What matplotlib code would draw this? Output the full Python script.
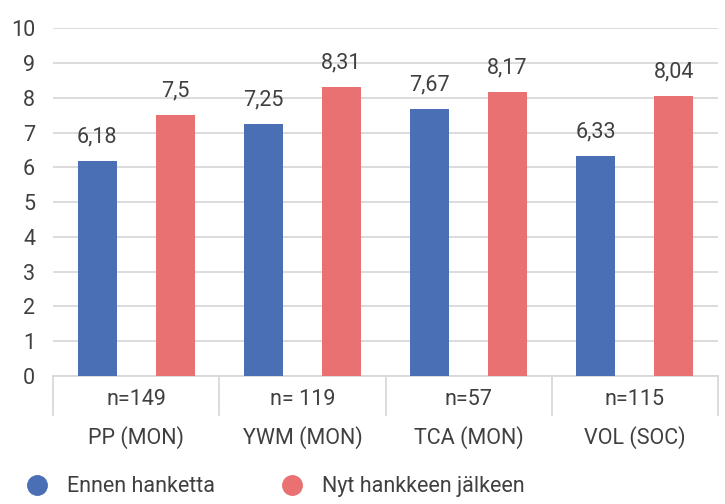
import numpy as np
import matplotlib.pyplot as plt
from matplotlib.lines import Line2D

# data
categories = ['PP (MON)', 'YWM (MON)', 'TCA (MON)', 'VOL (SOC)']
n_labels = ['n=149', 'n= 119', 'n=57', 'n=115']
before = [6.18, 7.25, 7.67, 6.33]
after = [7.5, 8.31, 8.17, 8.04]
series_names = ['Ennen hanketta', 'Nyt hankkeen jälkeen']

BLUE = '#4A6FB5'
RED = '#E97171'
TEXT = '#404040'
GRID = '#D9D9D9'
FS = 15.5

plt.rcParams['font.family'] = ['Roboto', 'DejaVu Sans']


def fmt(v):
    # Finnish decimal comma, drop trailing zeros
    return ('{:.2f}'.format(v)).rstrip('0').rstrip('.').replace('.', ',')


fig = plt.figure(figsize=(7.25, 5.04), dpi=100)
ax = fig.add_axes([0.0735, 0.254, 0.9165, 0.690])

x = np.arange(len(categories))
width = 0.232
off = 0.235

bars1 = ax.bar(x - off, before, width, color=BLUE, zorder=3)
bars2 = ax.bar(x + off, after, width, color=RED, zorder=3)

for bars, vals in ((bars1, before), (bars2, after)):
    for b, v in zip(bars, vals):
        ax.annotate(fmt(v), (b.get_x() + b.get_width() / 2, v),
                    xytext=(0, 10), textcoords='offset points',
                    ha='center', va='bottom', fontsize=FS, color=TEXT)

ax.set_xlim(-0.5, len(categories) - 0.5)
ax.set_ylim(0, 10)
ax.set_yticks(range(0, 11))
ax.yaxis.grid(True, color=GRID, linewidth=1.3, zorder=0)
ax.set_axisbelow(True)
ax.tick_params(axis='y', length=0, labelsize=FS, labelcolor=TEXT, pad=13)
ax.set_xticks([])

for s in ('left', 'right', 'top'):
    ax.spines[s].set_visible(False)
ax.spines['bottom'].set_color(GRID)
ax.spines['bottom'].set_linewidth(1.3)

# table-like x axis: separators, n row, category row
trans = ax.get_xaxis_transform()
for sep in np.arange(-0.5, len(categories)):
    ax.plot([sep, sep], [0, -0.112], transform=trans, color=GRID,
            linewidth=1.3, clip_on=False)
for i in x:
    ax.text(i, -0.069, n_labels[i], transform=trans, ha='center',
            va='center', fontsize=FS, color=TEXT)
    ax.text(i, -0.178, categories[i], transform=trans, ha='center',
            va='center', fontsize=FS, color=TEXT)

handles = [Line2D([], [], marker='o', linestyle='none', markersize=14,
                  markerfacecolor=c, markeredgecolor=c) for c in (BLUE, RED)]
fig.legend(handles, series_names, loc='center left',
           bbox_to_anchor=(-0.006, 0.034), ncol=2, frameon=False,
           fontsize=FS, labelcolor=TEXT, handletextpad=0.4,
           columnspacing=2.6)

fig.savefig('out.png', dpi=100)
